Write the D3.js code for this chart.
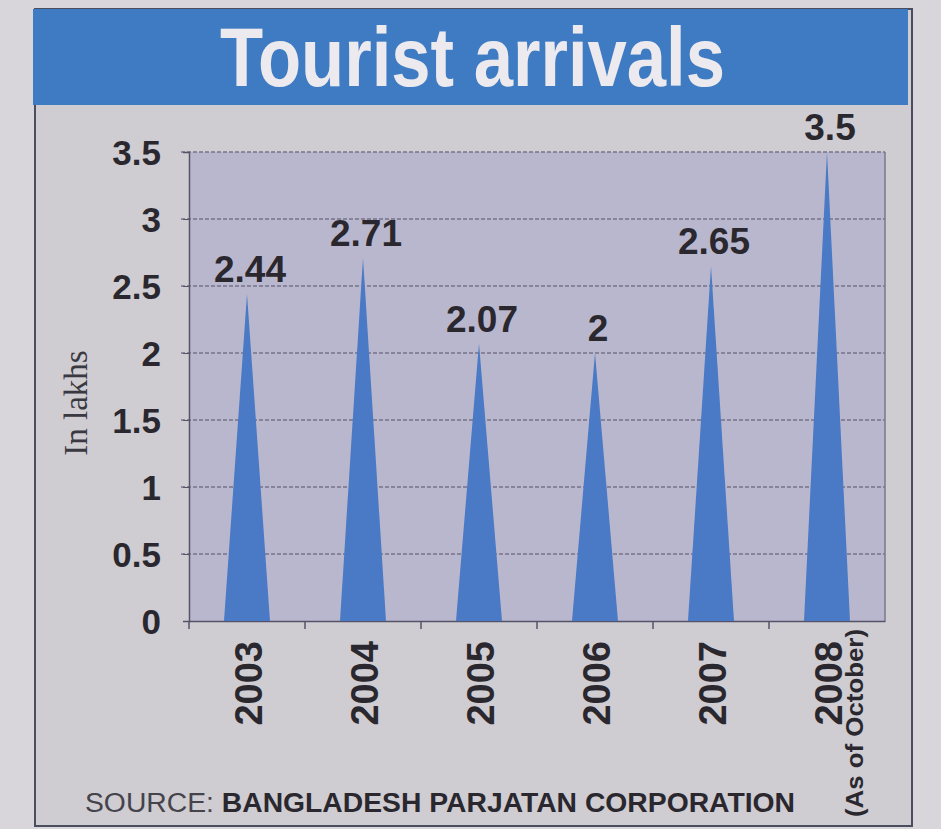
<!DOCTYPE html>
<html>
<head>
<meta charset="utf-8">
<script src="https://cdn.jsdelivr.net/npm/d3@7/dist/d3.min.js"></script>
<style>
  body { margin: 0; background: #d8d6da; }
  svg { display: block; }
  .sans { font-family: "Liberation Sans", Arial, Helvetica, sans-serif; }
</style>
</head>
<body>
<svg width="941" height="829"></svg>
<script>
const years = ['2003', '2004', '2005', '2006', '2007', '2008']
const arrivals = [2.44, 2.71, 2.07, 2, 2.65, 3.5]
const valueLabels = ['2.44', '2.71', '2.07', '2', '2.65', '3.5']
const yTicks = [0, 0.5, 1, 1.5, 2, 2.5, 3, 3.5]

const svg = d3.select('svg')
const ink = '#2a282e'

// Frame and title band
svg.append('rect')
  .attr('x', 35).attr('y', 9).attr('width', 877).attr('height', 817)
  .attr('fill', '#cfcdd2').attr('stroke', '#4a4d5e').attr('stroke-width', 2)
svg.append('rect')
  .attr('x', 33).attr('y', 9).attr('width', 875).attr('height', 96)
  .attr('fill', '#3e7bc2')
svg.append('text')
  .attr('class', 'sans')
  .attr('x', 220).attr('y', 86)
  .attr('font-size', 84).attr('font-weight', 'bold')
  .attr('textLength', 505).attr('lengthAdjust', 'spacingAndGlyphs')
  .attr('fill', '#eceaee')
  .text('Tourist arrivals')

const plot = { left: 189, right: 885, top: 152, bottom: 621 }

const x = d3.scaleBand().domain(years).range([plot.left, plot.right])
const y = d3.scaleLinear().domain([0, 3.5]).range([plot.bottom, plot.top])

// Plot background
svg.append('rect')
  .attr('x', plot.left).attr('y', plot.top)
  .attr('width', plot.right - plot.left).attr('height', plot.bottom - plot.top)
  .attr('fill', '#b9b7cd')

// Grid lines
svg.append('g')
  .selectAll('line')
  .data(yTicks.filter(d => d > 0))
  .join('line')
  .attr('x1', plot.left - 8).attr('x2', plot.right)
  .attr('y1', d => y(d)).attr('y2', d => y(d))
  .attr('stroke', '#75738a').attr('stroke-width', 1.5)
  .attr('stroke-dasharray', '4,2')

// Right edge of plot area
svg.append('line')
  .attr('x1', plot.right).attr('x2', plot.right)
  .attr('y1', plot.top).attr('y2', plot.bottom)
  .attr('stroke', '#7a7888').attr('stroke-width', 1.5)

// Y axis
const yAxis = svg.append('g')
  .attr('transform', `translate(${plot.left},0)`)
  .call(d3.axisLeft(y).tickValues(yTicks).tickFormat(d3.format('')).tickSize(6).tickPadding(22))
yAxis.select('.domain').attr('stroke', '#55536a').attr('stroke-width', 1.5)
yAxis.selectAll('line').attr('stroke', '#55536a')
yAxis.selectAll('text')
  .attr('class', 'sans')
  .attr('font-size', 35).attr('font-weight', 'bold').attr('fill', ink)
  .attr('dy', '0.36em')

// X axis
const xAxis = svg.append('g')
  .attr('transform', `translate(0,${plot.bottom})`)
  .call(d3.axisBottom(x).tickSize(0).tickFormat(''))
xAxis.select('.domain').attr('stroke', '#55536a').attr('stroke-width', 1.5)
svg.append('g')
  .selectAll('line')
  .data(years)
  .join('line')
  .attr('x1', d => x(d)).attr('x2', d => x(d))
  .attr('y1', plot.bottom).attr('y2', plot.bottom + 8)
  .attr('stroke', '#55536a').attr('stroke-width', 1.5)

// Triangular "bars"
const half = 23
svg.append('g')
  .selectAll('path')
  .data(years)
  .join('path')
  .attr('d', (d, i) => {
    const cx = x(d) + x.bandwidth() / 2
    return `M${cx - half},${y(0)}L${cx},${y(arrivals[i])}L${cx + half},${y(0)}Z`
  })
  .attr('fill', '#4a79c6')

// Value labels
svg.append('g')
  .selectAll('text')
  .data(years)
  .join('text')
  .attr('class', 'sans')
  .attr('x', d => x(d) + x.bandwidth() / 2 + 3)
  .attr('y', (d, i) => y(arrivals[i]) - 12)
  .attr('text-anchor', 'middle')
  .attr('font-size', 37).attr('font-weight', 'bold').attr('fill', ink)
  .text((d, i) => valueLabels[i])

// Year labels (rotated)
svg.append('g')
  .selectAll('text')
  .data(years)
  .join('text')
  .attr('class', 'sans')
  .attr('transform', d => `translate(${x(d) + x.bandwidth() / 2 + 15},${plot.bottom + 20}) rotate(-90)`)
  .attr('text-anchor', 'end')
  .attr('font-size', 38).attr('font-weight', 'bold').attr('fill', ink)
  .text(d => d)

svg.append('text')
  .attr('class', 'sans')
  .attr('transform', `translate(${x('2008') + x.bandwidth() / 2 + 36},${plot.bottom + 8}) rotate(-90)`)
  .attr('text-anchor', 'end')
  .attr('font-size', 24).attr('font-weight', 'bold').attr('fill', ink)
  .attr('textLength', 188).attr('lengthAdjust', 'spacingAndGlyphs')
  .text('(As of October)')

// Y axis title
svg.append('text')
  .attr('transform', `translate(87,403) rotate(-90)`)
  .attr('text-anchor', 'middle')
  .attr('font-family', '"Liberation Serif", "DejaVu Serif", serif')
  .attr('font-size', 33).attr('fill', '#3a3840')
  .text('In lakhs')

// Source
const src = svg.append('text')
  .attr('class', 'sans')
  .attr('x', 85).attr('y', 812)
  .attr('font-size', 27).attr('fill', '#45434b')
  .attr('textLength', 710).attr('lengthAdjust', 'spacingAndGlyphs')
src.append('tspan').text('SOURCE: ')
src.append('tspan').attr('font-weight', 'bold').attr('fill', ink).text('BANGLADESH PARJATAN CORPORATION')
</script>
</body>
</html>
